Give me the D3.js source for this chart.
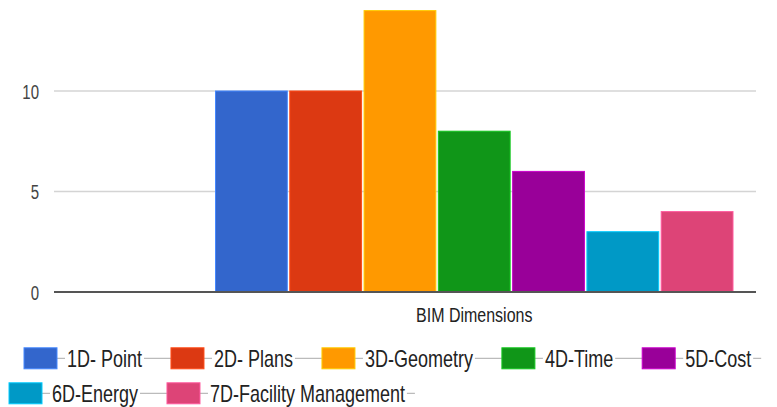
<!DOCTYPE html>
<html>
<head>
<meta charset="utf-8">
<script src="https://cdn.jsdelivr.net/npm/d3@7"></script>
<style>
  html, body { margin: 0; padding: 0; background: #fff; }
  svg { display: block; }
  text { font-family: "Liberation Sans", Arial, sans-serif; }
</style>
</head>
<body>
<svg id="chart" width="777" height="407"></svg>
<script>
// ---- data ----
const categories = ["BIM Dimensions"];
const seriesNames = ["1D- Point", "2D- Plans", "3D-Geometry", "4D-Time", "5D-Cost", "6D-Energy", "7D-Facility Management"];
const seriesValues = [10, 10, 14, 8, 6, 3, 4];
const seriesColors = ["#3366cc", "#dc3912", "#ff9900", "#109618", "#990099", "#0099c6", "#dd4477"];
const yTickValues = [0, 5, 10];
const legendRows = [[0, 1, 2, 3, 4], [5, 6]];

// ---- layout ----
const svg = d3.select("#chart");
const plotLeft = 54, plotRight = 756;
const SY = 1.3; // vertical stretch of the text in the reference

const y = d3.scaleLinear().domain([0, 10]).range([292, 91]);
const x0 = d3.scaleBand().domain(categories).range([215, 733.5]);
const x1 = d3.scaleBand().domain(seriesNames).range([0, x0.bandwidth()]).paddingInner(0.02);

// gridlines
svg.append("g").selectAll("line")
  .data(yTickValues.filter(v => v !== 0))
  .join("line")
  .attr("x1", plotLeft).attr("x2", plotRight)
  .attr("y1", d => y(d)).attr("y2", d => y(d))
  .attr("stroke", "#d4d4d4").attr("stroke-width", 1.6);

// y axis labels
const yAxis = svg.append("g")
  .attr("transform", `translate(${plotLeft - 15},0)`)
  .call(d3.axisLeft(y).tickValues(yTickValues).tickSize(0).tickPadding(0).tickFormat(d3.format("d")));
yAxis.select(".domain").remove();
yAxis.selectAll("text")
  .attr("fill", "#444")
  .attr("font-size", 15)
  .attr("font-family", '"Liberation Sans", Arial, sans-serif')
  .attr("dy", "0.36em")
  .attr("transform", `scale(1,${SY})`);

// bars
const group = svg.append("g").selectAll("g")
  .data(categories)
  .join("g")
  .attr("transform", d => `translate(${x0(d)},0)`);

group.selectAll("rect")
  .data(seriesNames.map((n, i) => ({ name: n, value: seriesValues[i], color: seriesColors[i] })))
  .join("rect")
  .attr("x", d => x1(d.name) + 0.5)
  .attr("width", x1.bandwidth() - 1)
  .attr("y", d => y(d.value))
  .attr("height", d => y(0) - y(d.value))
  .attr("fill", d => d.color)
  .attr("stroke", d => d3.color(d.color).brighter(0.8))
  .attr("stroke-width", 1);

// baseline
svg.append("line")
  .attr("x1", plotLeft).attr("x2", plotRight)
  .attr("y1", y(0)).attr("y2", y(0))
  .attr("stroke", "#555").attr("stroke-width", 2);

// x axis category label
const xAxis = svg.append("g")
  .attr("transform", `translate(0,${y(0)})`)
  .call(d3.axisBottom(x0).tickSize(0).tickPadding(0));
xAxis.select(".domain").remove();
xAxis.selectAll("text")
  .attr("fill", "#222")
  .attr("font-size", 16)
  .attr("font-family", '"Liberation Sans", Arial, sans-serif')
  .attr("y", 0)
  .attr("dy", 0)
  .attr("transform", `translate(0,22.7) scale(1,${SY})`)
  .attr("dominant-baseline", "central");

// legend
const rowStarts = [24, 9];
const rowCenters = [358.3, 393.3];
const swW = 33, swH = 21, gapSwText = 10, gapTextSw = 29, tail = 10;

legendRows.forEach((row, r) => {
  const g = svg.append("g");
  const lineEl = g.append("line");
  let xpos = rowStarts[r];
  let lastEnd = xpos;
  row.forEach(i => {
    const cy = rowCenters[r];
    g.append("rect")
      .attr("x", xpos).attr("y", cy - swH / 2)
      .attr("width", swW).attr("height", swH)
      .attr("fill", seriesColors[i])
      .attr("stroke", d3.color(seriesColors[i]).brighter(0.8))
      .attr("stroke-width", 1);
    const tx = xpos + swW + gapSwText;
    const bg = g.append("rect").attr("fill", "#fff");
    const t = g.append("text")
      .attr("transform", `translate(${tx},${cy}) scale(1,${SY})`)
      .attr("dy", "0.36em")
      .attr("font-size", 18)
      .attr("fill", "#222")
      .text(seriesNames[i]);
    const w = t.node().getComputedTextLength();
    bg.attr("x", tx - 2).attr("y", cy - 8).attr("width", w + 4).attr("height", 16);
    lastEnd = tx + w;
    xpos = lastEnd + gapTextSw;
  });
  lineEl
    .attr("x1", rowStarts[r] + swW).attr("x2", lastEnd + tail)
    .attr("y1", rowCenters[r]).attr("y2", rowCenters[r])
    .attr("stroke", "#bbb").attr("stroke-width", 1.2);
});
</script>
</body>
</html>
